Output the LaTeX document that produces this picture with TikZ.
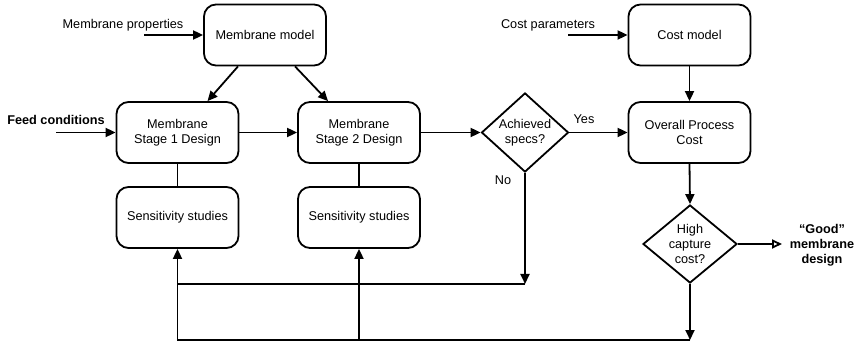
\documentclass[tikz,border=0pt]{standalone}
\usepackage{fontspec}
\setmainfont{Liberation Sans}
\usepackage{tikz}
\usetikzlibrary{shapes.geometric}
\usetikzlibrary{arrows.meta}

\begin{document}
\begin{tikzpicture}[
	x=1pt, y=-1pt,
	line width=1.8pt,
	font=\fontsize{12.7}{15}\selectfont
]
\tikzset{
    mybox/.style = {rectangle, rounded corners=12pt, draw=black, align=center, minimum width=122pt, minimum height=61pt, inner sep=0pt},
    mydiam/.style = {diamond, draw=black, align=center, inner sep=0pt},
    arr/.style = {-{Triangle[length=10pt,width=9pt]}},
    oarr/.style = {-{Triangle[open,length=10pt,width=9pt]}},
    lbl/.style = {align=center, inner sep=0pt}
}
\useasboundingbox (0,0) rectangle (858,344);
\node[mybox] (model) at (265,35) {Membrane model};
\node[mybox] (costm) at (689.5,35) {Cost model};
\node[mybox] (st1) at (177.5,132.5) {Membrane\\Stage 1 Design};
\node[mybox] (st2) at (359,132.5) {Membrane\\Stage 2 Design};
\node[mybox] (overall) at (689.5,132.5) {Overall Process\\Cost};
\node[mybox] (sens1) at (177.5,217.5) {Sensitivity studies};
\node[mybox] (sens2) at (359,217.5) {Sensitivity studies};
\node[mydiam,minimum width=87pt,minimum height=79pt] (ach) at (525,132.5) {Achieved\\specs?};
\node[mydiam,aspect=1.2,minimum width=94pt,minimum height=78pt] (high) at (690,244) {High\\capture\\cost?};

\node[lbl] (propl) at (123,25) {Membrane properties};
\node[lbl,font=\fontsize{12.7}{15}\selectfont\bfseries] (feedl) at (56,120) {Feed conditions};
\node[lbl] (costl) at (548,25) {Cost parameters};
\node[lbl] (yesl) at (584,119) {Yes};
\node[lbl] (nol) at (503,180) {No};
\node[lbl,font=\fontsize{12.7}{15}\selectfont\bfseries] (goodl) at (822,245) {“Good”\\membrane\\design};

\coordinate (propin) at (144,35);
\coordinate (feedin) at (56,132.5);
\coordinate (costin) at (568,35);
\coordinate (goodout) at (782,244);
\coordinate (nojoin) at (525,284);
\coordinate (hjoin) at (690,340);

\draw[arr] (propin) -- (model.west);
\draw[arr] (feedin) -- (st1.west);
\draw[arr] (costin) -- (costm.west);
\draw[arr] ([xshift=-27pt]model.south) -- ([xshift=30pt]st1.north);
\draw[arr] ([xshift=30pt]model.south) -- ([xshift=-31pt]st2.north);
\draw[arr] (st1.east) -- (st2.west);
\draw[arr] (st2.east) -- (ach.west);
\draw[arr] (ach.east) -- (overall.west);
\draw[arr] (costm.south) -- (overall.north);
\draw[arr] (overall.south) -- (high.north);
\draw[oarr] (high.east) -- (goodout);
\draw (st1.south) -- (sens1.north);
\draw (st2.south) -- (sens2.north);
\draw[arr] (ach.south) -- (nojoin);
\draw (nojoin) -- (nojoin -| sens1.south);
\draw[arr] (high.south) -- (hjoin);
\draw[arr] (hjoin) -- (hjoin -| sens1.south) -- (sens1.south);
\draw[arr] (hjoin -| sens2.south) -- (sens2.south);
\end{tikzpicture}
\end{document}
